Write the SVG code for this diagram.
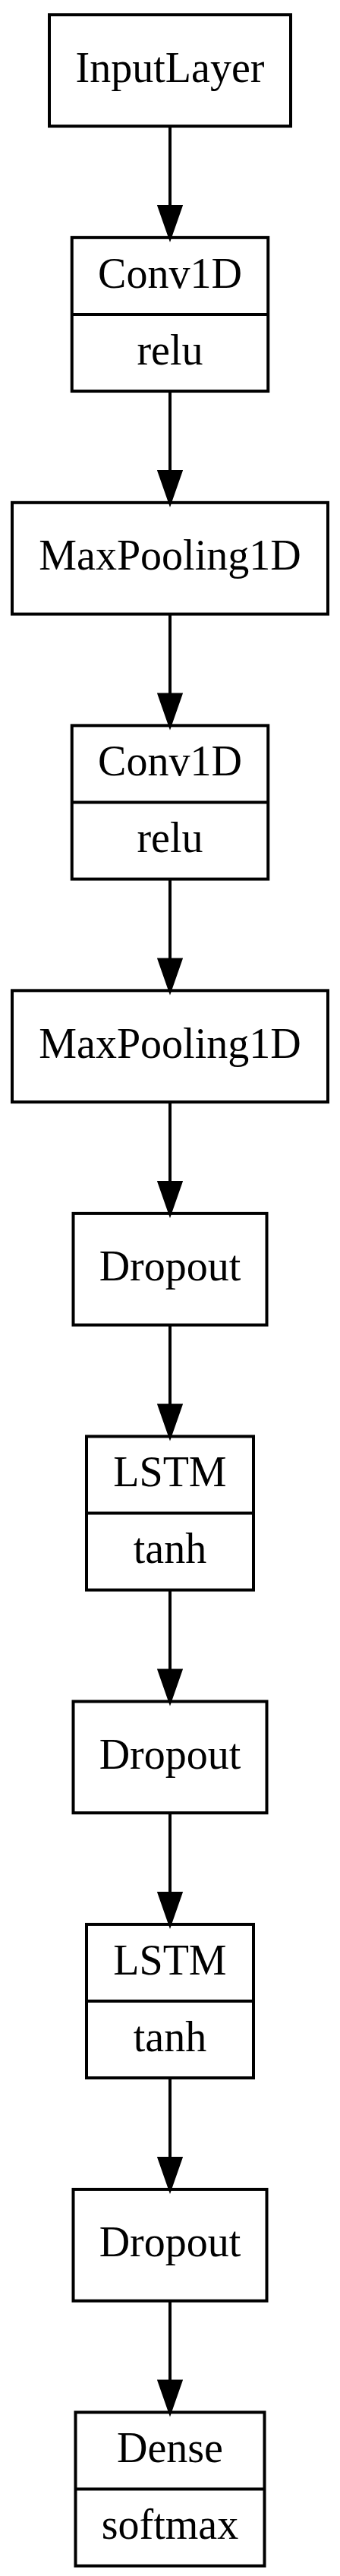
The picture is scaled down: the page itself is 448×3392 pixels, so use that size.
<svg xmlns="http://www.w3.org/2000/svg" width="448" height="3392" viewBox="0 0 448 3392">
<defs>
<style>
.n rect{fill:none;stroke:#000;stroke-width:4}
.n line{stroke:#000;stroke-width:4}
.n text{font-family:"Liberation Serif","Times New Roman",serif;font-size:56px;fill:#000;text-anchor:middle}
.e line{stroke:#000;stroke-width:4}
</style>
<marker id="ah" viewBox="0 0 10 7" refX="0" refY="3.5" markerUnits="userSpaceOnUse" markerWidth="40.8" markerHeight="28.5" orient="auto" overflow="visible">
<path d="M0,0 L10,3.5 L0,7 Z" fill="#000" stroke="#000" stroke-width="1"/>
</marker>
</defs>
<rect x="0" y="0" width="448" height="3392" fill="#fff"/>
<g id="diagram" transform="translate(0,3)">
<g id="connectors" class="e">
<line x1="224" y1="163.1" x2="224" y2="269.05" marker-end="url(#ah)"/>
<line x1="224" y1="512.06" x2="224" y2="618.03" marker-end="url(#ah)"/>
<line x1="224" y1="805.6" x2="224" y2="911.57" marker-end="url(#ah)"/>
<line x1="224" y1="1154.58" x2="224" y2="1260.55" marker-end="url(#ah)"/>
<line x1="224" y1="1448.12" x2="224" y2="1554.08" marker-end="url(#ah)"/>
<line x1="224" y1="1741.65" x2="224" y2="1847.62" marker-end="url(#ah)"/>
<line x1="224" y1="2090.63" x2="224" y2="2196.6" marker-end="url(#ah)"/>
<line x1="224" y1="2384.17" x2="224" y2="2490.14" marker-end="url(#ah)"/>
<line x1="224" y1="2733.15" x2="224" y2="2839.12" marker-end="url(#ah)"/>
<line x1="224" y1="3026.69" x2="224" y2="3132.66" marker-end="url(#ah)"/>
</g>
<g id="input_layer" class="n">
<rect x="65" y="16.3" width="318" height="146.8"/>
<text x="224" y="104.8">InputLayer</text>
</g>
<g id="conv1d_1" class="n">
<rect x="94.75" y="309.85" width="258.5" height="202.2"/>
<line x1="94.75" y1="410.95" x2="353.25" y2="410.95"/>
<text x="224" y="375.5">Conv1D</text>
<text x="224" y="476.6">relu</text>
</g>
<g id="max_pooling1d_1" class="n">
<rect x="16" y="658.83" width="416" height="146.77"/>
<text x="224" y="747.3">MaxPooling1D</text>
</g>
<g id="conv1d_2" class="n">
<rect x="94.75" y="952.37" width="258.5" height="202.2"/>
<line x1="94.75" y1="1053.47" x2="353.25" y2="1053.47"/>
<text x="224" y="1018">Conv1D</text>
<text x="224" y="1119.1">relu</text>
</g>
<g id="max_pooling1d_2" class="n">
<rect x="16" y="1301.35" width="416" height="146.77"/>
<text x="224" y="1389.8">MaxPooling1D</text>
</g>
<g id="dropout_1" class="n">
<rect x="96.5" y="1594.88" width="255" height="146.77"/>
<text x="224" y="1683.4">Dropout</text>
</g>
<g id="lstm_1" class="n">
<rect x="114" y="1888.42" width="220" height="202.2"/>
<line x1="114" y1="1989.53" x2="334" y2="1989.53"/>
<text x="224" y="1954.1">LSTM</text>
<text x="224" y="2055.2">tanh</text>
</g>
<g id="dropout_2" class="n">
<rect x="96.5" y="2237.4" width="255" height="146.77"/>
<text x="224" y="2325.9">Dropout</text>
</g>
<g id="lstm_2" class="n">
<rect x="114" y="2530.94" width="220" height="202.2"/>
<line x1="114" y1="2632.05" x2="334" y2="2632.05"/>
<text x="224" y="2596.6">LSTM</text>
<text x="224" y="2697.7">tanh</text>
</g>
<g id="dropout_3" class="n">
<rect x="96.5" y="2879.92" width="255" height="146.77"/>
<text x="224" y="2968.4">Dropout</text>
</g>
<g id="dense" class="n">
<rect x="99.5" y="3173.46" width="249" height="202.2"/>
<line x1="99.5" y1="3274.57" x2="348.5" y2="3274.57"/>
<text x="224" y="3239.1">Dense</text>
<text x="224" y="3340.2">softmax</text>
</g>
</g>
</svg>
